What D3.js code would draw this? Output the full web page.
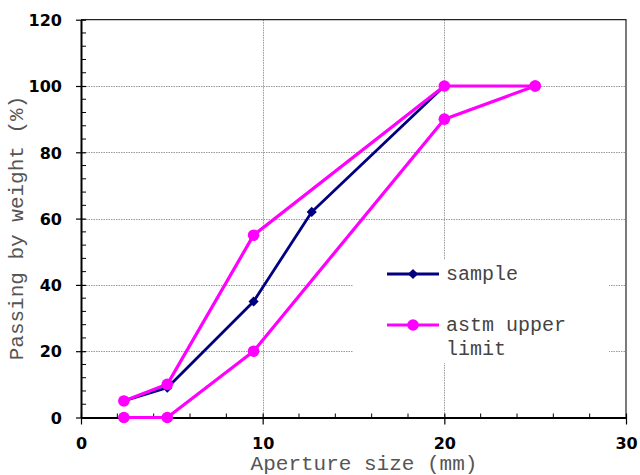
<!DOCTYPE html>
<html>
<head>
<meta charset="utf-8">
<script src="https://cdn.jsdelivr.net/npm/d3@7"></script>
<style>
  body { margin: 0; background: #fff; }
  .tick-label { font-family: "DejaVu Sans", sans-serif; font-weight: bold; font-size: 16px; fill: #000; }
  .title { font-family: "Liberation Mono", "Courier New", monospace; font-size: 21px; fill: #555; }
  .legend-text { font-family: "Liberation Mono", "Courier New", monospace; font-size: 20px; fill: #444; }
</style>
</head>
<body>
<svg width="640" height="475"></svg>
<script>
// sieve sizes (mm) and % passing
var sampleX = [2.36, 4.75, 9.5, 12.7, 20];
var sampleY = [5, 9, 35, 62, 100];
var upperX = [2.36, 4.75, 9.5, 20, 25];
var upperY = [5, 10, 55, 100, 100];
var lowerX = [2.36, 4.75, 9.5, 20, 25];
var lowerY = [0, 0, 20, 90, 100];

var xTicks = [0, 10, 20, 30];
var yTicks = [0, 20, 40, 60, 80, 100, 120];

var svg = d3.select("svg"),
    plotL = 81, plotR = 626, plotT = 19.7, plotB = 417.5;

var x = d3.scaleLinear().domain([0, 30]).range([plotL, plotR]);
var y = d3.scaleLinear().domain([0, 120]).range([plotB, plotT]);

var NAVY = "#000080", MAGENTA = "#ff00ff";

// grid
var grid = svg.append("g").attr("class", "grid")
    .attr("stroke", "#9a9a9a").attr("stroke-width", 1).attr("stroke-dasharray", "1.5,1");
grid.selectAll("line.gx")
    .data(xTicks.slice(1, -1))
  .enter().append("line")
    .attr("x1", function(d) { return Math.round(x(d)) + 0.5; })
    .attr("x2", function(d) { return Math.round(x(d)) + 0.5; })
    .attr("y1", plotT).attr("y2", plotB);
grid.selectAll("line.gy")
    .data(yTicks.slice(1, -1))
  .enter().append("line")
    .attr("x1", plotL).attr("x2", plotR)
    .attr("y1", function(d) { return Math.round(y(d)) + 0.5; })
    .attr("y2", function(d) { return Math.round(y(d)) + 0.5; });

// legend background hides the grid
svg.append("rect")
    .attr("x", 353).attr("y", 260).attr("width", 256).attr("height", 103)
    .attr("fill", "#fff");

// frame
svg.append("line").attr("x1", plotL).attr("x2", plotR + 0.5).attr("y1", plotT).attr("y2", plotT)
    .attr("stroke", "#222").attr("stroke-width", 1.2);
svg.append("line").attr("x1", plotR).attr("x2", plotR).attr("y1", plotT).attr("y2", plotB)
    .attr("stroke", "#222").attr("stroke-width", 1.2);

// axes
var yAxis = d3.axisLeft(y).tickValues(yTicks).tickSizeInner(5).tickSizeOuter(0).tickPadding(14);
var xAxis = d3.axisBottom(x).tickValues(xTicks).tickSizeInner(7).tickSizeOuter(0).tickPadding(12);

var gy = svg.append("g").attr("transform", "translate(" + plotL + ",0)").call(yAxis);
var gx = svg.append("g").attr("transform", "translate(0," + plotB + ")").call(xAxis);

[gx, gy].forEach(function(g) {
  g.attr("font-family", null).attr("font-size", null);
  g.select(".domain").attr("stroke", "#000").attr("stroke-width", 2);
  g.selectAll(".tick line").attr("stroke", "#000").attr("stroke-width", 1.2);
  g.selectAll(".tick text").attr("class", "tick-label");
});
// major ticks cross the axis
gy.selectAll(".tick line").attr("x1", 5);
gx.selectAll(".tick line").attr("y1", -4);
gy.selectAll(".tick text").attr("dy", "0.36em");
gx.selectAll(".tick text").attr("dy", "0.75em");

// minor ticks (inside)
var minorY = d3.range(4, 120, 4).filter(function(d) { return d % 20 !== 0; });
var minorX = d3.range(2, 30, 2).filter(function(d) { return d % 10 !== 0; });
svg.append("g").selectAll("line")
    .data(minorY)
  .enter().append("line")
    .attr("x1", plotL).attr("x2", plotL + 5)
    .attr("y1", function(d) { return y(d); }).attr("y2", function(d) { return y(d); })
    .attr("stroke", "#000").attr("stroke-width", 1);
svg.append("g").selectAll("line")
    .data(minorX)
  .enter().append("line")
    .attr("x1", function(d) { return x(d); }).attr("x2", function(d) { return x(d); })
    .attr("y1", plotB).attr("y2", plotB - 4)
    .attr("stroke", "#000").attr("stroke-width", 1);

// series
var line = d3.line().x(function(d) { return x(d[0]); }).y(function(d) { return y(d[1]); });
var zip = function(a, b) { return a.map(function(v, i) { return [v, b[i]]; }); };

// square diamond marker (rotated square)
var diamond = d3.symbol().type(d3.symbolSquare).size(52);

function drawCircles(pts) {
  svg.append("path").datum(pts)
      .attr("d", line).attr("fill", "none")
      .attr("stroke", MAGENTA).attr("stroke-width", 3.2).attr("stroke-linejoin", "round");
  svg.append("g").selectAll("circle")
      .data(pts)
    .enter().append("circle")
      .attr("cx", function(d) { return x(d[0]); })
      .attr("cy", function(d) { return y(d[1]); })
      .attr("r", 5.8).attr("fill", MAGENTA);
}

var samplePts = zip(sampleX, sampleY);
svg.append("path").datum(samplePts)
    .attr("d", line).attr("fill", "none")
    .attr("stroke", NAVY).attr("stroke-width", 2.8).attr("stroke-linejoin", "round");
svg.append("g").selectAll("path")
    .data(samplePts)
  .enter().append("path")
    .attr("transform", function(d) { return "translate(" + x(d[0]) + "," + y(d[1]) + ") rotate(45)"; })
    .attr("d", diamond).attr("fill", NAVY);

drawCircles(zip(lowerX, lowerY));
drawCircles(zip(upperX, upperY));

// legend
var lg = svg.append("g");
lg.append("line").attr("x1", 387).attr("x2", 439).attr("y1", 274).attr("y2", 274)
    .attr("stroke", NAVY).attr("stroke-width", 2.8);
lg.append("path").attr("transform", "translate(413,274) rotate(45)").attr("d", diamond).attr("fill", NAVY);
lg.append("text").attr("class", "legend-text").attr("x", 446).attr("y", 280).text("sample");

lg.append("line").attr("x1", 387).attr("x2", 439).attr("y1", 325).attr("y2", 325)
    .attr("stroke", MAGENTA).attr("stroke-width", 3.2);
lg.append("circle").attr("cx", 413).attr("cy", 325).attr("r", 5.8).attr("fill", MAGENTA);
lg.append("text").attr("class", "legend-text").attr("x", 446).attr("y", 331).text("astm upper");
lg.append("text").attr("class", "legend-text").attr("x", 446).attr("y", 355).text("limit");

// axis titles
svg.append("text").attr("class", "title")
    .attr("x", 364).attr("y", 470).attr("text-anchor", "middle")
    .text("Aperture size (mm)");
svg.append("text").attr("class", "title")
    .attr("transform", "translate(23,228) rotate(-90)").attr("text-anchor", "middle")
    .text("Passing by weight (%)");
</script>
</body>
</html>
